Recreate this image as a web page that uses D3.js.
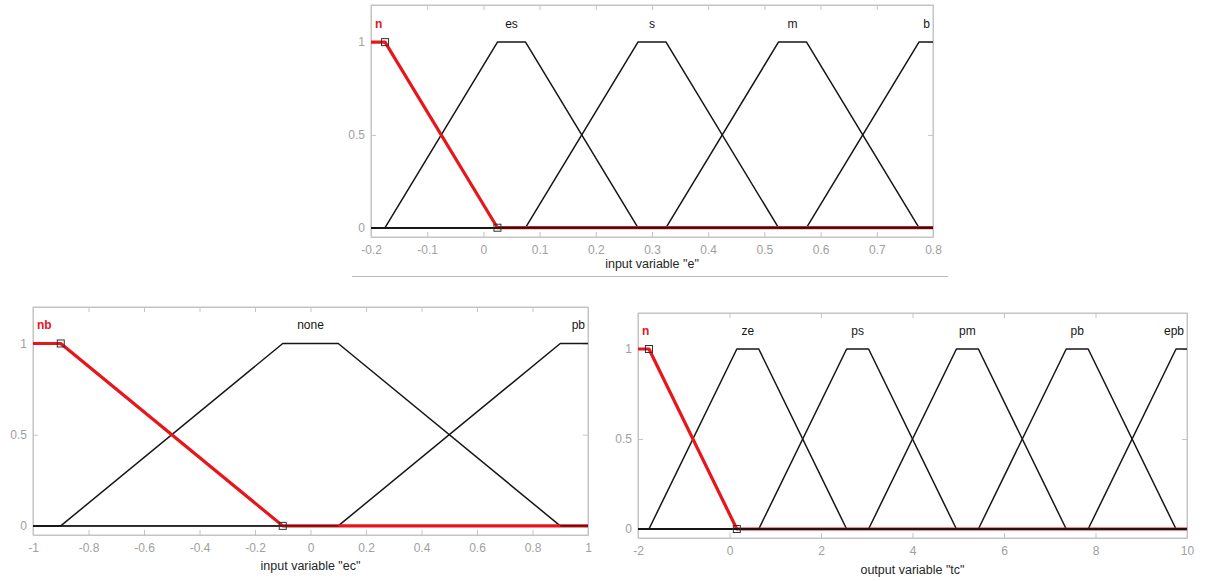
<!DOCTYPE html>
<html>
<head>
<meta charset="utf-8">
<script src="https://cdn.jsdelivr.net/npm/d3@7/dist/d3.min.js"></script>
<style>
  html, body { margin: 0; padding: 0; background: #ffffff; }
  svg { display: block; font-family: "Liberation Sans", Arial, Helvetica, sans-serif; }
</style>
</head>
<body>
<svg id="chart" width="1208" height="581"></svg>
<script>
// Membership functions (trapezoids [a, b, c, d]) for each fuzzy variable
const eRange = [-0.2, 0.8];
const eTerms = ["n", "es", "s", "m", "b"];
const eParams = [
  [-0.425, -0.225, -0.175, 0.025],
  [-0.175, 0.025, 0.075, 0.275],
  [0.075, 0.275, 0.325, 0.525],
  [0.325, 0.525, 0.575, 0.775],
  [0.575, 0.775, 0.825, 1.025]
];
const eTicks = [-0.2, -0.1, 0, 0.1, 0.2, 0.3, 0.4, 0.5, 0.6, 0.7, 0.8];

const ecRange = [-1, 1];
const ecTerms = ["nb", "none", "pb"];
const ecParams = [
  [-1.9, -1.1, -0.9, -0.1],
  [-0.9, -0.1, 0.1, 0.9],
  [0.1, 0.9, 1.1, 1.9]
];
const ecTicks = [-1, -0.8, -0.6, -0.4, -0.2, 0, 0.2, 0.4, 0.6, 0.8, 1];

const tcRange = [-2, 10];
const tcTerms = ["n", "ze", "ps", "pm", "pb", "epb"];
const tcParams = [
  [-4.4, -2.24, -1.76, 0.16],
  [-1.76, 0.16, 0.64, 2.56],
  [0.64, 2.56, 3.04, 4.96],
  [3.04, 4.96, 5.44, 7.36],
  [5.44, 7.36, 7.84, 9.76],
  [7.84, 9.76, 10.24, 12.16]
];
const tcTicks = [-2, 0, 2, 4, 6, 8, 10];

const yTicks = [0, 0.5, 1];
const yDomain = [-0.05, 1.2];
const labelLevel = 1.1;

// Panel layout
const panels = [
  { range: eRange, terms: eTerms, params: eParams, ticks: eTicks, selected: 0,
    title: 'input variable "e"', left: 371, right: 933, top: 5, bottom: 237, titleY: 268 },
  { range: ecRange, terms: ecTerms, params: ecParams, ticks: ecTicks, selected: 0,
    title: 'input variable "ec"', left: 33, right: 588, top: 307, bottom: 535, titleY: 570 },
  { range: tcRange, terms: tcTerms, params: tcParams, ticks: tcTicks, selected: 0,
    title: 'output variable "tc"', left: 638, right: 1187, top: 313, bottom: 538, titleY: 574 }
];

const svg = d3.select("#chart");
const frameColor = "#c4c4c4";
const tickLabelColor = "#a0a0a0";
const red = "#e8151b";
const ink = "#161616";

// separator rule under the upper panel
svg.append("line")
  .attr("x1", 352).attr("x2", 948).attr("y1", 276.5).attr("y2", 276.5)
  .attr("stroke", "#b9b9b9").attr("stroke-width", 1.2);

function trap(x, p) {
  const [a, b, c, d] = p;
  if (x <= a || x >= d) return (x >= b && x <= c) ? 1 : 0;
  if (x < b) return (x - a) / (b - a);
  if (x <= c) return 1;
  return (d - x) / (d - c);
}

function fmt(v) {
  return String(+v.toFixed(3));
}

panels.forEach(P => {
  const x = d3.scaleLinear().domain(P.range).range([P.left, P.right]);
  const y = d3.scaleLinear().domain(yDomain).range([P.bottom, P.top]);
  const g = svg.append("g");

  // frame
  g.append("rect")
    .attr("x", P.left).attr("y", P.top)
    .attr("width", P.right - P.left).attr("height", P.bottom - P.top)
    .attr("fill", "#fff").attr("stroke", frameColor).attr("stroke-width", 1);

  // axes with inward ticks on all four sides
  const bottomAxis = d3.axisBottom(x).tickValues(P.ticks).tickFormat(fmt)
    .tickSizeInner(-5).tickSizeOuter(0).tickPadding(8);
  const topAxis = d3.axisTop(x).tickValues(P.ticks).tickFormat("")
    .tickSizeInner(-5).tickSizeOuter(0);
  const leftAxis = d3.axisLeft(y).tickValues(yTicks).tickFormat(fmt)
    .tickSizeInner(-5).tickSizeOuter(0).tickPadding(6);
  const rightAxis = d3.axisRight(y).tickValues(yTicks).tickFormat("")
    .tickSizeInner(-5).tickSizeOuter(0);

  const axes = [
    g.append("g").attr("transform", `translate(0,${P.bottom})`).call(bottomAxis),
    g.append("g").attr("transform", `translate(0,${P.top})`).call(topAxis),
    g.append("g").attr("transform", `translate(${P.left},0)`).call(leftAxis),
    g.append("g").attr("transform", `translate(${P.right},0)`).call(rightAxis)
  ];
  axes.forEach(a => {
    a.select(".domain").attr("stroke", frameColor);
    a.selectAll(".tick line").attr("stroke", frameColor);
    a.selectAll(".tick text")
      .attr("fill", tickLabelColor)
      .style("font-size", "12px")
      .style("font-family", '"Liberation Sans", Arial, sans-serif');
  });

  // axis title
  g.append("text")
    .attr("x", (P.left + P.right) / 2).attr("y", P.titleY)
    .attr("text-anchor", "middle")
    .attr("fill", "#262626")
    .style("font-size", "12.5px")
    .text(P.title);

  const line = d3.line().x(d => x(d[0])).y(d => y(d[1]));
  const lo = P.range[0], hi = P.range[1];
  const curvePts = p => {
    const xs = [lo, ...p, hi].filter(v => v >= lo && v <= hi).sort((a, b) => a - b);
    return xs.map(v => [v, trap(v, p)]);
  };

  // unselected membership functions in black
  P.params.forEach((p, i) => {
    if (i === P.selected) return;
    g.append("path").attr("d", line(curvePts(p)))
      .attr("fill", "none").attr("stroke", ink).attr("stroke-width", 1.5)
      .attr("stroke-linejoin", "round");
  });

  // selected membership function in thick red
  const sp = P.params[P.selected];
  g.append("path").attr("d", line(curvePts(sp)))
    .attr("fill", "none").attr("stroke", red).attr("stroke-width", 3.2)
    .attr("stroke-linejoin", "round");

  // zero-level runs of the black functions drawn over the red one
  P.params.forEach((p, i) => {
    if (i === P.selected) return;
    const runs = [];
    if (p[0] > lo) runs.push([lo, Math.min(p[0], hi)]);
    if (p[3] < hi) runs.push([Math.max(p[3], lo), hi]);
    runs.forEach(r => {
      g.append("line")
        .attr("x1", x(r[0])).attr("x2", x(r[1]))
        .attr("y1", y(0)).attr("y2", y(0))
        .attr("stroke", ink).attr("stroke-width", 1.4).attr("opacity", 0.85);
    });
  });

  // vertex handles of the selected function
  [[sp[2], 1], [sp[3], 0]].forEach(([vx, vy]) => {
    g.append("rect")
      .attr("x", x(vx) - 3.5).attr("y", y(vy) - 3.5)
      .attr("width", 7).attr("height", 7)
      .attr("fill", "none").attr("stroke", "#333").attr("stroke-width", 1);
  });

  // term names above each plateau
  P.params.forEach((p, i) => {
    const c = (Math.max(p[1], lo) + Math.min(p[2], hi)) / 2;
    const mid = (p[1] + p[2]) / 2;
    let anchor = "middle", px = x(c);
    if (mid <= lo) { anchor = "start"; px = x(lo) + 4; }
    else if (mid >= hi) { anchor = "end"; px = x(hi) - 3; }
    g.append("text")
      .attr("x", px).attr("y", y(labelLevel))
      .attr("dy", "0.35em")
      .attr("text-anchor", anchor)
      .attr("fill", i === P.selected ? red : ink)
      .style("font-size", "12px")
      .style("font-weight", i === P.selected ? "bold" : "normal")
      .text(P.terms[i]);
  });
});
</script>
</body>
</html>
